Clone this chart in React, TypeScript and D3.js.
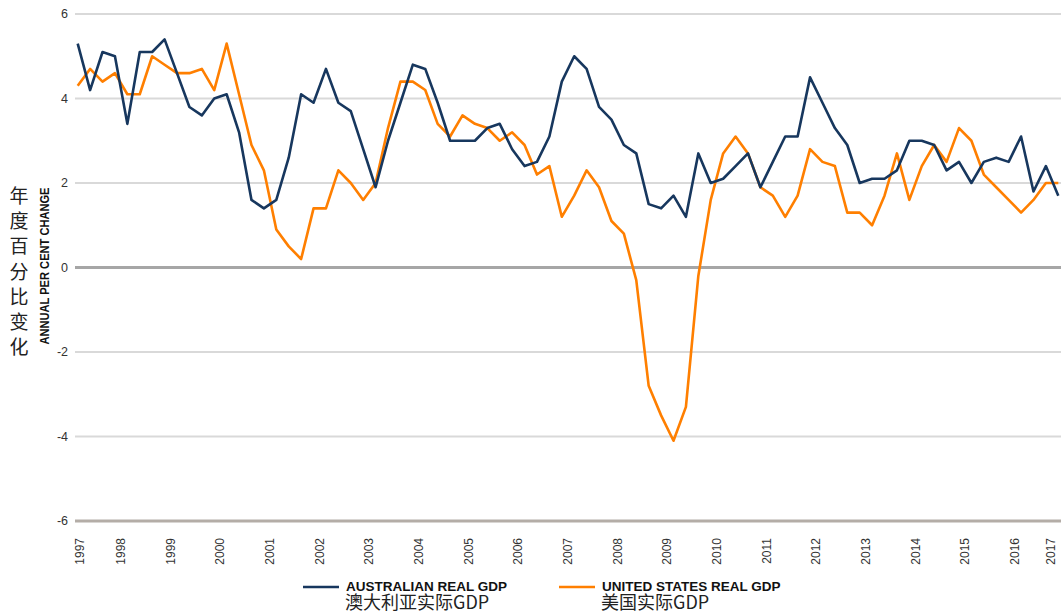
// Australian vs US real GDP — annual per cent change, quarterly, 1997–2017
import { useRef, useEffect } from 'react';
import * as d3 from 'd3';

const ausGdp = [
  5.3, 4.2, 5.1, 5.0, 3.4, 5.1, 5.1, 5.4, 4.6, 3.8,
  3.6, 4.0, 4.1, 3.2, 1.6, 1.4, 1.6, 2.6, 4.1, 3.9,
  4.7, 3.9, 3.7, 2.8, 1.9, 3.0, 3.9, 4.8, 4.7, 3.9,
  3.0, 3.0, 3.0, 3.3, 3.4, 2.8, 2.4, 2.5, 3.1, 4.4,
  5.0, 4.7, 3.8, 3.5, 2.9, 2.7, 1.5, 1.4, 1.7, 1.2,
  2.7, 2.0, 2.1, 2.4, 2.7, 1.9, 2.5, 3.1, 3.1, 4.5,
  3.9, 3.3, 2.9, 2.0, 2.1, 2.1, 2.3, 3.0, 3.0, 2.9,
  2.3, 2.5, 2.0, 2.5, 2.6, 2.5, 3.1, 1.8, 2.4, 1.7,
];

const usGdp = [
  4.3, 4.7, 4.4, 4.6, 4.1, 4.1, 5.0, 4.8, 4.6, 4.6,
  4.7, 4.2, 5.3, 4.1, 2.9, 2.3, 0.9, 0.5, 0.2, 1.4,
  1.4, 2.3, 2.0, 1.6, 2.0, 3.3, 4.4, 4.4, 4.2, 3.4,
  3.1, 3.6, 3.4, 3.3, 3.0, 3.2, 2.9, 2.2, 2.4, 1.2,
  1.7, 2.3, 1.9, 1.1, 0.8, -0.3, -2.8, -3.5, -4.1, -3.3,
  -0.2, 1.6, 2.7, 3.1, 2.7, 1.9, 1.7, 1.2, 1.7, 2.8,
  2.5, 2.4, 1.3, 1.3, 1.0, 1.7, 2.7, 1.6, 2.4, 2.9,
  2.5, 3.3, 3.0, 2.2, 1.9, 1.6, 1.3, 1.6, 2.0, 2.0,
];

const years = [
  '1997', '1998', '1999', '2000', '2001', '2002', '2003', '2004', '2005', '2006', '2007',
  '2008', '2009', '2010', '2011', '2012', '2013', '2014', '2015', '2016', '2017',
];

const yTicks = [-6, -4, -2, 0, 2, 4, 6];

const yTitleCn = ['年', '度', '百', '分', '比', '变', '化'];
const yTitleEn = 'ANNUAL PER CENT CHANGE';

const legendItems = [
  { en: 'AUSTRALIAN REAL GDP', cn: '澳大利亚实际GDP', color: '#17375E' },
  { en: 'UNITED STATES REAL GDP', cn: '美国实际GDP', color: '#FF7F00' },
];

const W = 1061;
const H = 611;

export default function App() {
  const svgRef = useRef<SVGSVGElement>(null);

  useEffect(() => {
    if (!svgRef.current) return;
    const svg = d3.select(svgRef.current);
    svg.selectAll('*').remove();

    const plotLeft = 75;
    const plotRight = W;
    const n = ausGdp.length;

    const x = d3.scaleLinear().domain([0, n - 1]).range([77.7, 1058.3]);
    const y = d3.scaleLinear().domain([-6, 6]).range([521, 14]);

    // gridlines
    const grid = svg.append('g');
    grid
      .selectAll('line')
      .data(yTicks)
      .join('line')
      .attr('x1', plotLeft)
      .attr('x2', plotRight)
      .attr('y1', (d) => y(d))
      .attr('y2', (d) => y(d))
      .attr('stroke', (d) => (d === 0 ? '#a6a6a6' : d === -6 ? '#b4ada7' : '#d9d9d9'))
      .attr('stroke-width', (d) => (d === 0 || d === -6 ? 3 : 2));

    // y tick labels
    svg
      .append('g')
      .selectAll('text')
      .data(yTicks)
      .join('text')
      .attr('x', 68)
      .attr('y', (d) => y(d))
      .attr('dy', '0.35em')
      .attr('text-anchor', 'end')
      .style('font-family', '"Liberation Sans", Arial, sans-serif')
      .style('font-size', '12.5px')
      .style('fill', '#333')
      .text((d) => String(d));

    // x tick labels (one per year, centred between quarters)
    const tickPos = (k: number) => Math.min(Math.max(k * 4 - 0.5, 0.2), n - 1.6);
    svg
      .append('g')
      .selectAll('text')
      .data(years)
      .join('text')
      .attr('transform', (_, k) => `translate(${x(tickPos(k)) + 4},538) rotate(-90)`)
      .attr('text-anchor', 'end')
      .style('font-family', '"Liberation Sans Narrow", "Liberation Sans", sans-serif')
      .style('font-size', '12px')
      .style('fill', '#333')
      .text((d) => d);

    // series
    const line = d3
      .line<number>()
      .x((_, i) => x(i))
      .y((d) => y(d));

    [usGdp, ausGdp].forEach((series, s) => {
      svg
        .append('path')
        .datum(series)
        .attr('d', line)
        .attr('fill', 'none')
        .attr('stroke', s === 0 ? legendItems[1].color : legendItems[0].color)
        .attr('stroke-width', 2.6)
        .attr('stroke-linejoin', 'round');
    });

    // y-axis titles
    svg
      .append('g')
      .selectAll('text')
      .data(yTitleCn)
      .join('text')
      .attr('x', 19)
      .attr('y', (_, k) => 196 + k * 25.3)
      .attr('dy', '0.35em')
      .attr('text-anchor', 'middle')
      .style('font-family', '"Noto Sans CJK SC", sans-serif')
      .style('font-size', '19px')
      .style('fill', '#222')
      .text((d) => d);

    svg
      .append('text')
      .attr('transform', 'translate(48.5,266) rotate(-90)')
      .attr('text-anchor', 'middle')
      .attr('textLength', 157)
      .attr('lengthAdjust', 'spacingAndGlyphs')
      .style('font-family', '"Liberation Sans Narrow", "Liberation Sans", sans-serif')
      .style('font-weight', 'bold')
      .style('font-size', '12.5px')
      .style('fill', '#111')
      .text(yTitleEn);

    // legend
    const legendX = [303, 559];
    const lg = svg
      .append('g')
      .selectAll('g')
      .data(legendItems)
      .join('g')
      .attr('transform', (_, k) => `translate(${legendX[k]},0)`);

    lg.append('line')
      .attr('x1', 0)
      .attr('x2', 36)
      .attr('y1', 587)
      .attr('y2', 587)
      .attr('stroke', (d) => d.color)
      .attr('stroke-width', 2.6);

    lg.append('text')
      .attr('x', 43)
      .attr('y', 591)
      .style('font-family', '"Liberation Sans", Arial, sans-serif')
      .style('font-weight', 'bold')
      .style('font-size', '13.5px')
      .style('fill', '#111')
      .text((d) => d.en);

    lg.append('text')
      .attr('x', 42)
      .attr('y', 608.5)
      .style('font-family', '"Noto Sans CJK SC", sans-serif')
      .style('font-size', '18px')
      .style('fill', '#222')
      .text((d) => d.cn);
  }, []);

  return (
    <svg
      ref={svgRef}
      width={W}
      height={H}
      style={{ position: 'absolute', left: 0, top: 0, background: '#fff' }}
    />
  );
}
